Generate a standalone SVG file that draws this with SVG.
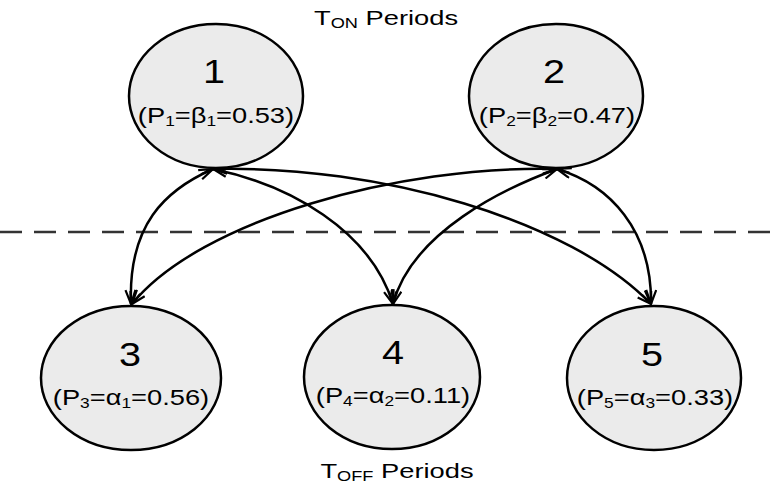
<svg xmlns="http://www.w3.org/2000/svg" width="771" height="484" viewBox="0 0 771 484">
<style>
.node{fill:#ebebeb;stroke:#000;stroke-width:2.5}
.num{font-family:"Liberation Sans",Arial,sans-serif;font-size:33px;fill:#000;text-anchor:middle}
.lbl{font-family:"Liberation Sans",Arial,sans-serif;font-size:22px;fill:#000;text-anchor:middle}
.ttl{font-family:"Liberation Sans",Arial,sans-serif;font-size:21px;fill:#000;text-anchor:middle}
.sub{font-size:14px}
.edge{fill:none;stroke:#000;stroke-width:2.5;marker-start:url(#ah);marker-end:url(#ah)}
</style>
<defs>
<marker id="ah" viewBox="0 0 16 12" markerWidth="16" markerHeight="12" refX="15" refY="6" orient="auto-start-reverse" markerUnits="userSpaceOnUse">
<path d="M1,1 L15,6 L1,11 M2,6 L15,6" fill="none" stroke="#000" stroke-width="2.2"/>
</marker>
</defs>
<text class="ttl" transform="translate(386,25) scale(1.3,1)">T<tspan class="sub" dy="3">ON</tspan><tspan dy="-3"> Periods</tspan></text>
<line x1="0" y1="232" x2="771" y2="232" stroke="#333" stroke-width="2.5" stroke-dasharray="22 12"/>
<g id="edges">
<path class="edge" d="M213,169 C165,190 128,225 131,304"/>
<path class="edge" d="M213,169 C290,185 370,230 393,304"/>
<path class="edge" d="M213,169 C380,165 570,220 651,304"/>
<path class="edge" d="M557,169 C400,165 200,220 132,304"/>
<path class="edge" d="M557,169 C505,188 412,232 393,304"/>
<path class="edge" d="M557,169 C610,185 652,230 651,304"/>
</g>
<g id="node1">
<ellipse class="node" cx="216" cy="96" rx="87" ry="72"/>
<text class="num" transform="translate(214,83) scale(1.2,1)">1</text>
<text class="lbl" transform="translate(216,123) scale(1.24,1)">(P<tspan class="sub" dy="3">1</tspan><tspan dy="-3">=β</tspan><tspan class="sub" dy="3">1</tspan><tspan dy="-3">=0.53)</tspan></text>
</g>
<g id="node2">
<ellipse class="node" cx="556" cy="96" rx="87" ry="72"/>
<text class="num" transform="translate(554,83) scale(1.2,1)">2</text>
<text class="lbl" transform="translate(557,123) scale(1.24,1)">(P<tspan class="sub" dy="3">2</tspan><tspan dy="-3">=β</tspan><tspan class="sub" dy="3">2</tspan><tspan dy="-3">=0.47)</tspan></text>
</g>
<g id="node3">
<ellipse class="node" cx="131" cy="378" rx="90" ry="72"/>
<text class="num" transform="translate(130,366) scale(1.2,1)">3</text>
<text class="lbl" transform="translate(131,405) scale(1.24,1)">(P<tspan class="sub" dy="3">3</tspan><tspan dy="-3">=α</tspan><tspan class="sub" dy="3">1</tspan><tspan dy="-3">=0.56)</tspan></text>
</g>
<g id="node4">
<ellipse class="node" cx="392" cy="377" rx="88" ry="72"/>
<text class="num" transform="translate(393,364) scale(1.2,1)">4</text>
<text class="lbl" transform="translate(393,403) scale(1.24,1)">(P<tspan class="sub" dy="3">4</tspan><tspan dy="-3">=α</tspan><tspan class="sub" dy="3">2</tspan><tspan dy="-3">=0.11)</tspan></text>
</g>
<g id="node5">
<ellipse class="node" cx="654" cy="378" rx="87" ry="72"/>
<text class="num" transform="translate(652,366) scale(1.2,1)">5</text>
<text class="lbl" transform="translate(655,405) scale(1.24,1)">(P<tspan class="sub" dy="3">5</tspan><tspan dy="-3">=α</tspan><tspan class="sub" dy="3">3</tspan><tspan dy="-3">=0.33)</tspan></text>
</g>
<text class="ttl" transform="translate(397,478) scale(1.3,1)">T<tspan class="sub" dy="3">OFF</tspan><tspan dy="-3"> Periods</tspan></text>
</svg>
